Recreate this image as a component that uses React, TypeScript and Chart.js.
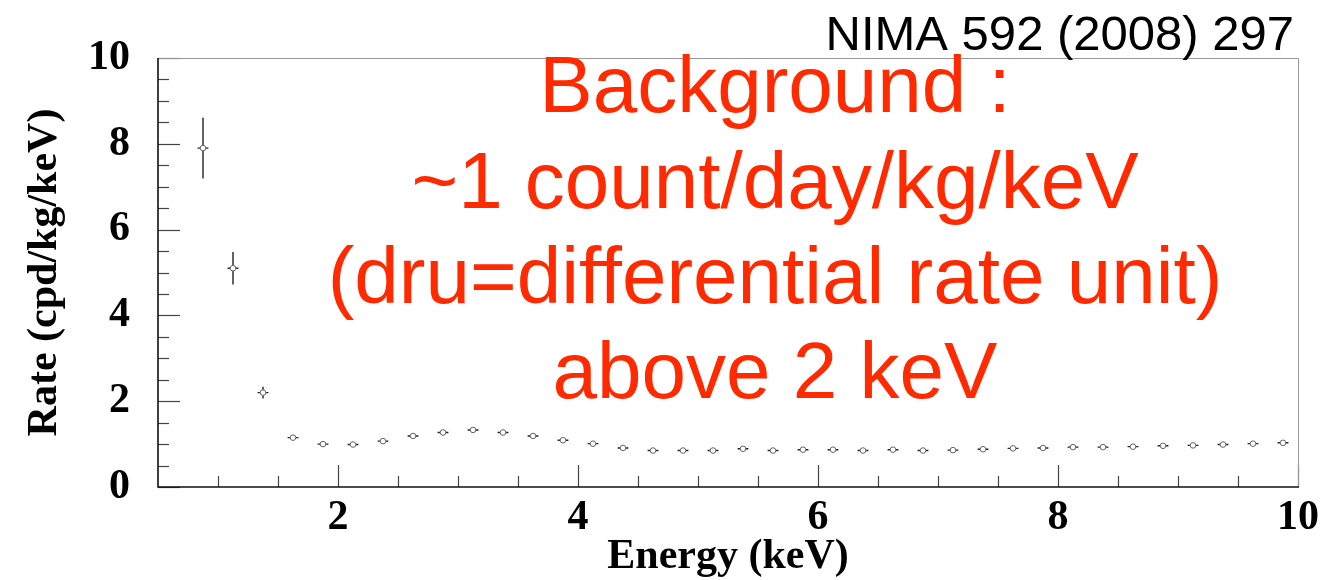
import React, { useEffect, useRef } from 'react';
import { Chart, registerables } from 'chart.js';

Chart.register(...registerables);

// ---- data ----
const ENERGY_KEV = [
  0.875, 1.125, 1.375, 1.625, 1.875, 2.125, 2.375, 2.625, 2.875, 3.125,
  3.375, 3.625, 3.875, 4.125, 4.375, 4.625, 4.875, 5.125, 5.375, 5.625,
  5.875, 6.125, 6.375, 6.625, 6.875, 7.125, 7.375, 7.625, 7.875, 8.125,
  8.375, 8.625, 8.875, 9.125, 9.375, 9.625, 9.875,
];
const RATE = [
  7.9, 5.1, 2.2, 1.15, 1.0, 0.99, 1.07, 1.19, 1.27, 1.33,
  1.27, 1.19, 1.09, 1.01, 0.91, 0.85, 0.85, 0.85, 0.89, 0.85,
  0.87, 0.87, 0.85, 0.87, 0.85, 0.86, 0.88, 0.9, 0.91, 0.93,
  0.93, 0.94, 0.96, 0.97, 0.99, 1.01, 1.03,
];
const RATE_ERR = [
  0.71, 0.38, 0.135, 0.05, 0.04, 0.04, 0.04, 0.04, 0.04, 0.04,
  0.04, 0.04, 0.04, 0.04, 0.035, 0.035, 0.035, 0.035, 0.035, 0.035,
  0.035, 0.035, 0.035, 0.035, 0.035, 0.035, 0.035, 0.035, 0.035, 0.035,
  0.035, 0.035, 0.035, 0.035, 0.035, 0.035, 0.035,
];
const ENERGY_HALF_ERR = 0.045;

const X_TICKS = [2, 4, 6, 8, 10];
const Y_TICKS = [0, 2, 4, 6, 8, 10];
const X_RANGE = [0.5, 10];
const Y_RANGE = [0, 10];
const MINOR_STEP = 0.5;

const X_TITLE = 'Energy (keV)';
const Y_TITLE = 'Rate (cpd/kg/keV)';
const CITATION = 'NIMA 592 (2008) 297';
const NOTE_LINES = [
  'Background :',
  '~1 count/day/kg/keV',
  '(dru=differential rate unit)',
  'above 2 keV',
];

const SERIF_BOLD = { family: '"Liberation Serif", "Times New Roman", serif', size: 42, weight: 'bold' as const };
const RED = '#ff2a00';

const errorBarPlugin = {
  id: 'errorBars',
  beforeDatasetsDraw(chart: any) {
    const { ctx, scales } = chart;
    const xs = scales.x;
    const ys = scales.y;
    ctx.save();
    ctx.strokeStyle = '#222';
    ctx.lineWidth = 1.4;
    ENERGY_KEV.forEach((e, i) => {
      const px = xs.getPixelForValue(e);
      const py = ys.getPixelForValue(RATE[i]);
      const t = ys.getPixelForValue(RATE[i] + RATE_ERR[i]);
      const b = ys.getPixelForValue(RATE[i] - RATE_ERR[i]);
      const l = xs.getPixelForValue(e - ENERGY_HALF_ERR);
      const r = xs.getPixelForValue(e + ENERGY_HALF_ERR);
      ctx.beginPath();
      ctx.moveTo(px, t);
      ctx.lineTo(px, b);
      ctx.moveTo(l, py);
      ctx.lineTo(r, py);
      ctx.stroke();
    });
    ctx.restore();
  },
};

const framePlugin = {
  id: 'frameTicks',
  afterDatasetsDraw(chart: any) {
    const { ctx, chartArea, scales } = chart;
    const { left, right, top, bottom } = chartArea;
    const xs = scales.x;
    const ys = scales.y;
    ctx.save();
    ctx.strokeStyle = '#444';
    ctx.lineWidth = 1.2;
    const isMajor = (v: number, arr: number[]) => arr.some((a) => Math.abs(a - v) < 1e-6);
    for (let v = Y_RANGE[0]; v <= Y_RANGE[1] + 1e-6; v += MINOR_STEP) {
      const py = Math.round(ys.getPixelForValue(v)) + 0.5;
      const len = isMajor(v, Y_TICKS) ? 22 : 11;
      ctx.beginPath();
      ctx.moveTo(left, py);
      ctx.lineTo(left + len, py);
      ctx.stroke();
    }
    for (let v = 1; v <= X_RANGE[1] + 1e-6; v += MINOR_STEP) {
      const px = Math.round(xs.getPixelForValue(v)) + 0.5;
      const len = isMajor(v, X_TICKS) ? 22 : 11;
      ctx.beginPath();
      ctx.moveTo(px, bottom);
      ctx.lineTo(px, bottom - len);
      ctx.stroke();
    }
    ctx.strokeStyle = '#999';
    ctx.lineWidth = 1;
    ctx.beginPath();
    ctx.moveTo(left, top + 0.5);
    ctx.lineTo(right + 0.5, top + 0.5);
    ctx.lineTo(right + 0.5, bottom);
    ctx.stroke();
    ctx.strokeStyle = '#111';
    ctx.lineWidth = 1.6;
    ctx.beginPath();
    ctx.moveTo(left, top);
    ctx.lineTo(left, bottom);
    ctx.lineTo(right + 1, bottom);
    ctx.stroke();
    ctx.restore();
  },
  afterDraw(chart: any) {
    const { ctx } = chart;
    ctx.save();
    ctx.fillStyle = '#000';
    ctx.font = '49px "Liberation Sans", Arial, sans-serif';
    ctx.textAlign = 'right';
    ctx.textBaseline = 'alphabetic';
    ctx.fillText(CITATION, 1294, 50);
    ctx.fillStyle = RED;
    ctx.font = '80px "Liberation Sans", Arial, sans-serif';
    ctx.textAlign = 'center';
    const baselines = [112, 208, 303, 398];
    NOTE_LINES.forEach((line, i) => ctx.fillText(line, 775, baselines[i]));
    ctx.restore();
  },
};

export default function App() {
  const ref = useRef<HTMLCanvasElement | null>(null);
  useEffect(() => {
    document.body.style.margin = '0';
    const canvas = ref.current;
    if (!canvas) return;
    const chart = new Chart(canvas, {
      type: 'scatter',
      data: {
        datasets: [
          {
            label: 'rate',
            data: ENERGY_KEV.map((e, i) => ({ x: e, y: RATE[i] })),
            pointRadius: 2.8,
            pointBorderWidth: 1,
            pointBorderColor: '#666',
            pointBackgroundColor: '#fff',
            showLine: false,
          },
        ],
      },
      options: {
        animation: false,
        responsive: false,
        devicePixelRatio: 1,
        layout: { padding: { top: 58, right: 23, left: 0, bottom: 0 } },
        plugins: { legend: { display: false }, tooltip: { enabled: false } },
        scales: {
          x: {
            type: 'linear',
            min: X_RANGE[0],
            max: X_RANGE[1],
            grid: { display: false, drawTicks: false },
            border: { display: false },
            afterBuildTicks: (s: any) => {
              s.ticks = X_TICKS.map((v) => ({ value: v }));
            },
            afterFit: (s: any) => {
              s.height = 93;
            },
            ticks: {
              color: '#000',
              font: SERIF_BOLD,
              padding: 6,
              maxRotation: 0,
              autoSkip: false,
              callback: (v: any) => String(v),
            },
            title: {
              display: true,
              text: X_TITLE,
              color: '#000',
              font: SERIF_BOLD,
              padding: { top: 0, bottom: -2 },
            },
          },
          y: {
            type: 'linear',
            min: Y_RANGE[0],
            max: Y_RANGE[1],
            grid: { display: false, drawTicks: false },
            border: { display: false },
            afterBuildTicks: (s: any) => {
              s.ticks = Y_TICKS.map((v) => ({ value: v }));
            },
            afterFit: (s: any) => {
              s.width = 158;
            },
            ticks: {
              color: '#000',
              font: SERIF_BOLD,
              padding: 28,
              autoSkip: false,
              callback: (v: any) => String(v),
            },
            title: {
              display: true,
              text: Y_TITLE,
              color: '#000',
              font: SERIF_BOLD,
              padding: { top: 20, bottom: 0 },
            },
          },
        },
      },
      plugins: [errorBarPlugin, framePlugin],
    });
    return () => chart.destroy();
  }, []);
  return <canvas ref={ref} width={1325} height={580} style={{ display: 'block' }} />;
}
